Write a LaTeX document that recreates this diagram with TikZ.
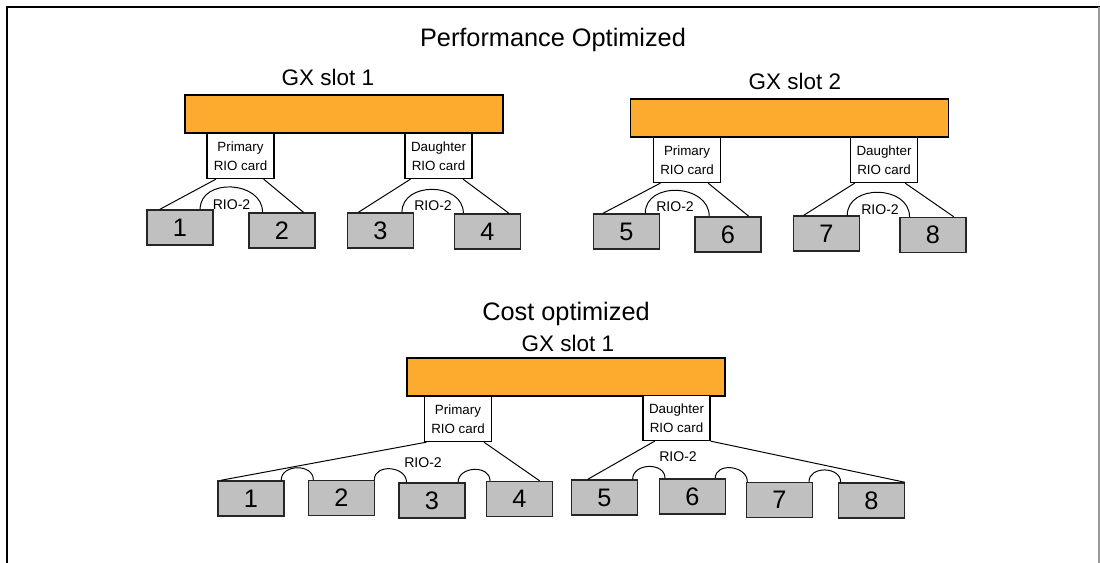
\documentclass[tikz,border=0pt]{standalone}
\usepackage{fontspec}
\setmainfont{Liberation Sans}
\usetikzlibrary{calc}

\definecolor{slotorange}{RGB}{252,171,47}
\definecolor{drawergray}{RGB}{192,192,192}

\tikzset{
	slotbar/.style={draw=black, line width=1pt, fill=slotorange, minimum width=7.95cm, minimum height=0.95cm, inner sep=0pt},
	card/.style={draw=black, line width=0.8pt, fill=white, minimum width=1.675cm, minimum height=1.125cm, inner sep=0pt, align=center, font=\fontsize{9.5}{13.5}\selectfont},
	drawer/.style={draw=black!85, line width=1pt, fill=drawergray, minimum width=1.64cm, minimum height=0.875cm, inner sep=0pt, font=\fontsize{18}{18}\selectfont},
	title/.style={font=\fontsize{18}{20}\selectfont},
	slotlabel/.style={font=\fontsize{16}{18}\selectfont},
	riolabel/.style={font=\fontsize{10}{12}\selectfont},
	wire/.style={line width=0.7pt},
	loopwire/.style={line width=0.7pt, out=90, in=90, looseness=1.3}
}

\begin{document}
\begin{tikzpicture}[x=0.025cm, y=-0.025cm]
	\useasboundingbox (0,0) rectangle (1100,563);
	% frame
	\draw[line width=1.4pt] (6,7) -- (1100,7);
	\draw[line width=1.4pt] (7,7) -- (7,563);
	\draw[line width=1pt, black!40] (1099,7) -- (1099,563);
	
	% Titles
	\node [title]     (perf)   at (553,40)  {Performance Optimized};
	\node [slotlabel] (lslot1) at (328,77)  {GX slot 1};
	\node [slotlabel] (lslot2) at (795,81)  {GX slot 2};
	\node [title]     (cost)   at (566,314) {Cost optimized};
	\node [slotlabel] (lslotc) at (568,343) {GX slot 1};
	
	% Performance optimized: slots and cards
	\node [slotbar] (slot1) at (344,114)   {};
	\node [slotbar] (slot2) at (789.5,118) {};
	\node [card, anchor=north] (p1) at (240.5,133) {Primary\\RIO card};
	\node [card, anchor=north] (d1) at (438.5,133) {Daughter\\RIO card};
	\node [card, anchor=north] (p2) at (687,137)   {Primary\\RIO card};
	\node [card, anchor=north] (d2) at (884,137)   {Daughter\\RIO card};
	
	% Performance optimized: drawers {1..8}
	\node [drawer] (b1) at (180,227.5)   {1};
	\node [drawer] (b2) at (282,230.5)   {2};
	\node [drawer] (b3) at (380.5,230.5) {3};
	\node [drawer] (b4) at (487.5,231.5) {4};
	\node [drawer] (b5) at (626.5,231.5) {5};
	\node [drawer] (b6) at (728,234.5)   {6};
	\node [drawer] (b7) at (826.5,233.5) {7};
	\node [drawer] (b8) at (933,235)     {8};
	
	% Performance optimized: paths
	\draw [wire] ($(p1.south west)!.14!(p1.south east)$) -- ($(b1.north west)!.2!(b1.north east)$);
	\draw [wire] ($(p1.south west)!.84!(p1.south east)$) -- ($(b2.north west)!.82!(b2.north east)$);
	\draw [loopwire] ($(b1.north west)!.8!(b1.north east)$) to ($(b2.north west)!.21!(b2.north east)$);
	\draw [wire] ($(d1.south west)!.09!(d1.south east)$) -- ($(b3.north west)!.17!(b3.north east)$);
	\draw [wire] ($(d1.south west)!.86!(d1.south east)$) -- ($(b4.north west)!.82!(b4.north east)$);
	\draw [loopwire] ($(b3.north west)!.82!(b3.north east)$) to ($(b4.north west)!.14!(b4.north east)$);
	\draw [wire] ($(p2.south west)!.11!(p2.south east)$) -- ($(b5.north west)!.15!(b5.north east)$);
	\draw [wire] ($(p2.south west)!.81!(p2.south east)$) -- ($(b6.north west)!.81!(b6.north east)$);
	\draw [loopwire] ($(b5.north west)!.78!(b5.north east)$) to ($(b6.north west)!.22!(b6.north east)$);
	\draw [wire] ($(d2.south west)!.07!(d2.south east)$) -- ($(b7.north west)!.16!(b7.north east)$);
	\draw [wire] ($(d2.south west)!.81!(d2.south east)$) -- ($(b8.north west)!.81!(b8.north east)$);
	\draw [loopwire] ($(b7.north west)!.81!(b7.north east)$) to ($(b8.north west)!.15!(b8.north east)$);
	
	\node [riolabel] (r12) at (231.5,205) {RIO-2};
	\node [riolabel] (r34) at (433,206)   {RIO-2};
	\node [riolabel] (r56) at (675,207)   {RIO-2};
	\node [riolabel] (r78) at (880,210)   {RIO-2};
	
	% Cost optimized: slot and cards
	\node [slotbar] (slotc) at (566,377) {};
	\node [card, anchor=north] (pc) at (458,396)   {Primary\\RIO card};
	\node [card, anchor=north] (dc) at (676.5,395) {Daughter\\RIO card};
	
	% Cost optimized: drawers {1..8}
	\node [drawer] (c1) at (251,498.5)   {1};
	\node [drawer] (c2) at (341.5,498)   {2};
	\node [drawer] (c3) at (432,500.5)   {3};
	\node [drawer] (c4) at (519.5,499)   {4};
	\node [drawer] (c5) at (604.5,497.5) {5};
	\node [drawer] (c6) at (692.5,496.5) {6};
	\node [drawer] (c7) at (779.5,500)   {7};
	\node [drawer] (c8) at (871.5,500.5) {8};
	
	% Cost optimized: paths
	\draw [wire] ($(pc.south west)!.04!(pc.south east)$) -- ($(c1.north west)!.05!(c1.north east)$);
	\draw [wire] ($(pc.south west)!.88!(pc.south east)$) -- ($(c4.north west)!.8!(c4.north east)$);
	\draw [wire] ($(dc.south west)!.18!(dc.south east)$) -- ($(c5.north west)!.25!(c5.north east)$);
	\draw [wire] (dc.south east) -- (c8.north east);
	\draw [loopwire] ($(c1.north west)!.95!(c1.north east)$) to ($(c2.north west)!.08!(c2.north east)$);
	\draw [loopwire] ($(c2.north west)!.99!(c2.north east)$) to ($(c3.north west)!.12!(c3.north east)$);
	\draw [loopwire] ($(c3.north west)!.89!(c3.north east)$) to ($(c4.north west)!.06!(c4.north east)$);
	\draw [loopwire] ($(c5.north west)!.92!(c5.north east)$) to ($(c6.north west)!.09!(c6.north east)$);
	\draw [loopwire] ($(c6.north west)!.84!(c6.north east)$) to ($(c7.north west)!.02!(c7.north east)$);
	\draw [loopwire] ($(c7.north west)!.94!(c7.north east)$) to ($(c8.north west)!.04!(c8.north east)$);
	
	\node [riolabel] (rc1) at (423,463) {RIO-2};
	\node [riolabel] (rc2) at (678,457) {RIO-2};
	
\end{tikzpicture}
\end{document}
